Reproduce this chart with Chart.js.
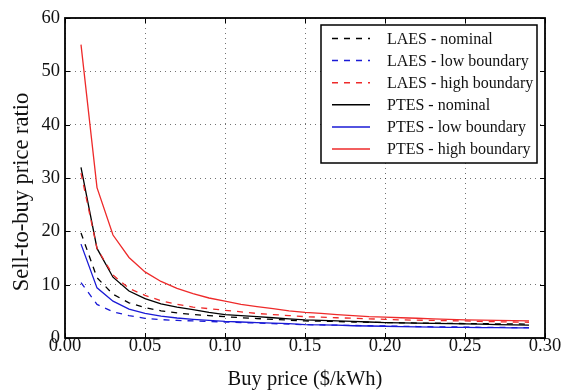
<!DOCTYPE html>
<html>
<head>
<meta charset="utf-8">
<title>Sell-to-buy price ratio</title>
<script src="https://cdn.jsdelivr.net/npm/chart.js@4.4.1/dist/chart.umd.min.js"></script>
<style>
    html, body { margin: 0; padding: 0; background: #fff; }
    canvas { display: block; }
</style>
</head>
<body>
<canvas id="chart" width="571" height="390"></canvas>
<script>
// Buy price ($/kWh)
const buyPrice = [0.01, 0.02, 0.03, 0.04, 0.05, 0.06, 0.07, 0.08, 0.09, 0.10,
    0.11, 0.12, 0.13, 0.14, 0.15, 0.16, 0.17, 0.18, 0.19, 0.20,
    0.21, 0.22, 0.23, 0.24, 0.25, 0.26, 0.27, 0.28, 0.29];

// Sell-to-buy price ratio
const laesNominal = [19.7, 11.3, 8.2, 6.6, 5.7, 5.1, 4.7, 4.4, 4.2, 4.0,
    3.8, 3.65, 3.5, 3.35, 3.2, 3.15, 3.1, 3.0, 2.95, 2.9,
    2.85, 2.8, 2.8, 2.75, 2.7, 2.7, 2.65, 2.65, 2.6];
const laesLow = [10.4, 6.3, 4.9, 4.2, 3.7, 3.45, 3.3, 3.2, 3.1, 3.0,
    2.9, 2.8, 2.7, 2.6, 2.5, 2.45, 2.4, 2.35, 2.3, 2.25,
    2.2, 2.15, 2.1, 2.1, 2.05, 2.0, 2.0, 1.95, 1.95];
const laesHigh = [30.9, 16.8, 11.8, 9.3, 8.0, 7.0, 6.3, 5.8, 5.5, 5.2,
    4.9, 4.6, 4.4, 4.2, 4.0, 3.9, 3.8, 3.7, 3.6, 3.5,
    3.4, 3.35, 3.3, 3.25, 3.2, 3.1, 3.05, 3.0, 2.95];
const ptesNominal = [32.0, 16.8, 11.4, 8.8, 7.4, 6.4, 5.8, 5.3, 4.8, 4.4,
    4.2, 4.0, 3.8, 3.6, 3.4, 3.3, 3.2, 3.1, 3.0, 2.9,
    2.85, 2.8, 2.75, 2.7, 2.65, 2.6, 2.5, 2.45, 2.4];
const ptesLow = [17.6, 9.4, 6.9, 5.4, 4.6, 4.1, 3.75, 3.5, 3.3, 3.1,
    3.0, 2.9, 2.8, 2.7, 2.5, 2.45, 2.4, 2.3, 2.25, 2.2,
    2.15, 2.1, 2.05, 2.0, 2.0, 1.95, 1.95, 1.9, 1.9];
const ptesHigh = [55.0, 28.2, 19.3, 15.1, 12.4, 10.6, 9.3, 8.3, 7.5, 6.9,
    6.3, 5.9, 5.5, 5.1, 4.8, 4.6, 4.4, 4.2, 4.0, 3.9,
    3.8, 3.7, 3.6, 3.5, 3.4, 3.35, 3.3, 3.25, 3.2];

const xTicks = [0, 0.05, 0.10, 0.15, 0.20, 0.25, 0.30];
const yTicks = [0, 10, 20, 30, 40, 50, 60];
const yTitle = 'Sell-to-buy price ratio';

const FONT = '"Liberation Serif", "DejaVu Serif", serif';
const BLACK = '#000000';
const BLUE = '#1a1ad6';
const RED = '#ee2a2a';
const DASH = [6, 6];

function series(label, values, color, dashed) {
    return {
        label: label,
        data: buyPrice.map((x, i) => ({ x: x, y: values[i] })),
        borderColor: color,
        backgroundColor: color,
        borderWidth: 1.3,
        borderDash: dashed ? DASH : [],
        pointRadius: 0,
        tension: 0,
        fill: false
    };
}

// Frame around the plot with inward ticks on all sides, plus the y title
const framePlugin = {
    id: 'frame',
    afterDatasetsDraw(chart) {
        const { ctx, chartArea: a, scales } = chart;
        const len = 5;
        ctx.save();
        ctx.strokeStyle = '#000';
        ctx.lineWidth = 1;
        ctx.beginPath();
        xTicks.forEach(v => {
            const px = Math.round(scales.x.getPixelForValue(v)) + 0.5;
            ctx.moveTo(px, a.bottom); ctx.lineTo(px, a.bottom - len);
            ctx.moveTo(px, a.top); ctx.lineTo(px, a.top + len);
        });
        yTicks.forEach(v => {
            const py = Math.round(scales.y.getPixelForValue(v)) + 0.5;
            ctx.moveTo(a.left, py); ctx.lineTo(a.left + len, py);
            ctx.moveTo(a.right, py); ctx.lineTo(a.right - len, py);
        });
        ctx.stroke();
        ctx.lineWidth = 1.8;
        ctx.strokeRect(a.left, a.top, a.right - a.left, a.bottom - a.top);

        // y title sits a little below the middle of the axis in the source figure
        ctx.translate(22, (a.top + a.bottom) / 2 + 14);
        ctx.rotate(-Math.PI / 2);
        ctx.font = '22.5px ' + FONT;
        ctx.fillStyle = '#111';
        ctx.textAlign = 'center';
        ctx.textBaseline = 'middle';
        ctx.fillText(yTitle, 0, 0);
        ctx.restore();
    }
};

// Legend box in the upper right corner of the plot
const legendPlugin = {
    id: 'boxLegend',
    afterDraw(chart) {
        const { ctx, chartArea: a } = chart;
        const sets = chart.data.datasets;
        const boxW = 216, rowH = 22.1;
        const boxX = a.right - 8 - boxW;
        const boxY = a.top + 7;
        const boxH = 138;
        ctx.save();
        ctx.fillStyle = '#fff';
        ctx.fillRect(boxX, boxY, boxW, boxH);
        ctx.strokeStyle = '#000';
        ctx.lineWidth = 1.5;
        ctx.strokeRect(boxX, boxY, boxW, boxH);
        ctx.font = '16px ' + FONT;
        ctx.textBaseline = 'middle';
        sets.forEach((ds, i) => {
            const cy = boxY + 13.5 + i * rowH;
            ctx.strokeStyle = ds.borderColor;
            ctx.lineWidth = 1.5;
            ctx.setLineDash(ds.borderDash);
            ctx.beginPath();
            ctx.moveTo(boxX + 11, cy);
            ctx.lineTo(boxX + 49, cy);
            ctx.stroke();
            ctx.setLineDash([]);
            ctx.fillStyle = '#111';
            ctx.fillText(ds.label, boxX + 66, cy + 1);
        });
        ctx.restore();
    }
};

const chart = new Chart(document.getElementById('chart'), {
    type: 'line',
    data: {
        datasets: [
            series('LAES - nominal', laesNominal, BLACK, true),
            series('LAES - low boundary', laesLow, BLUE, true),
            series('LAES - high boundary', laesHigh, RED, true),
            series('PTES - nominal', ptesNominal, BLACK, false),
            series('PTES - low boundary', ptesLow, BLUE, false),
            series('PTES - high boundary', ptesHigh, RED, false)
        ]
    },
    options: {
        responsive: false,
        devicePixelRatio: 1,
        animation: false,
        layout: { padding: { left: 0, right: 26, top: 18, bottom: 0 } },
        plugins: {
            legend: { display: false },
            tooltip: { enabled: false }
        },
        scales: {
            x: {
                type: 'linear',
                min: 0,
                max: 0.3,
                afterFit: (scale) => { scale.height = 52; },
                afterBuildTicks: (scale) => { scale.ticks = xTicks.map(v => ({ value: v })); },
                grid: { color: 'rgba(0,0,0,0.55)', lineWidth: 1, drawTicks: false },
                border: { display: false, dash: [1, 4] },
                ticks: {
                    color: '#111',
                    font: { family: FONT, size: 18.5 },
                    padding: -3,
                    maxRotation: 0,
                    callback: (v) => Number(v).toFixed(2)
                },
                title: {
                    display: true,
                    text: 'Buy price ($/kWh)',
                    color: '#111',
                    font: { family: FONT, size: 20.5 },
                    padding: { top: 0, bottom: -1.5 }
                }
            },
            y: {
                type: 'linear',
                min: 0,
                max: 60,
                afterFit: (scale) => { scale.width = 65; },
                afterBuildTicks: (scale) => { scale.ticks = yTicks.map(v => ({ value: v })); },
                grid: { color: 'rgba(0,0,0,0.55)', lineWidth: 1, drawTicks: false },
                border: { display: false, dash: [1, 4] },
                ticks: {
                    color: '#111',
                    font: { family: FONT, size: 18.5 },
                    padding: 5
                },
                title: { display: false }
            }
        }
    },
    plugins: [framePlugin, legendPlugin]
});
</script>
</body>
</html>
